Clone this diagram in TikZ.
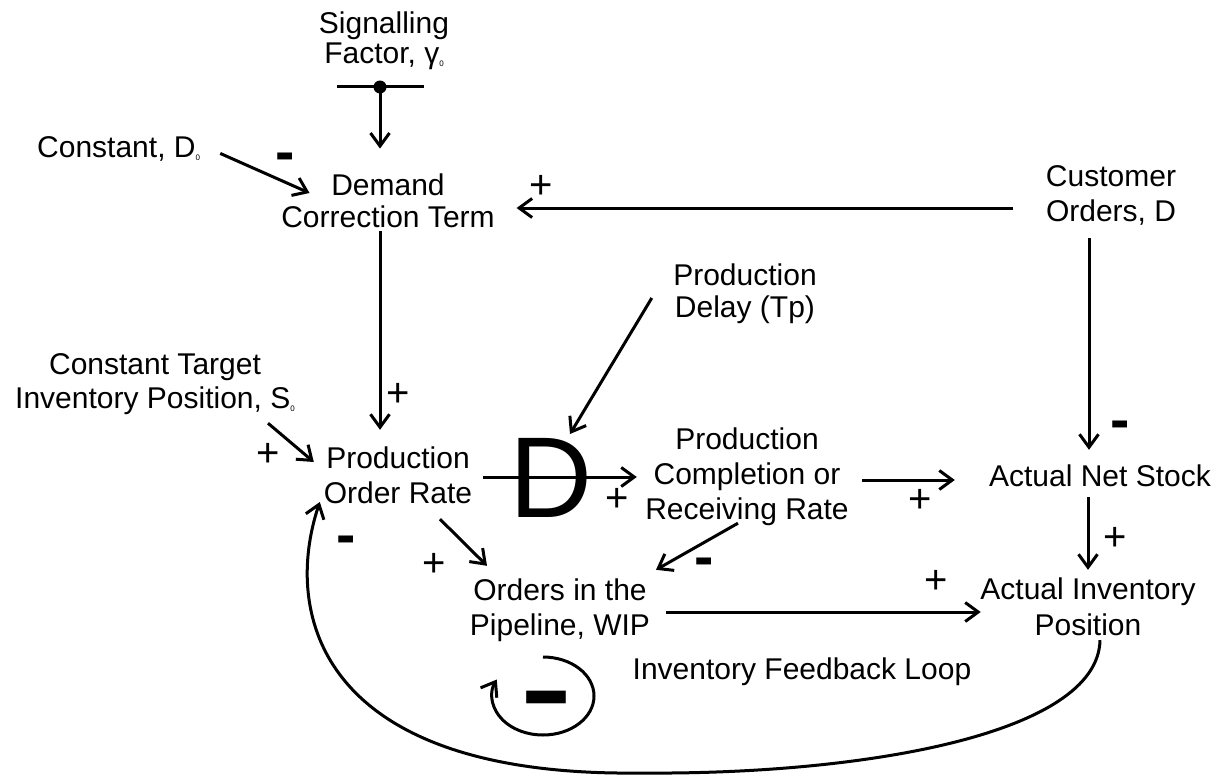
\documentclass[tikz,border=0pt]{standalone}
\usepackage{fontspec}
\setmainfont{Liberation Sans}
\usetikzlibrary{arrows.meta,calc}
\newcommand\subz[1]{\raisebox{-3pt}{\fontsize{8}{8}\selectfont #1}}
\begin{document}
\begin{tikzpicture}[x=1pt,y=-1pt,
  lbl/.style={font=\fontsize{30}{35}\selectfont, align=center, inner sep=0pt},
  arr/.style={line width=3pt, -{Straight Barb[length=13pt,width=19pt]}},
  pls/.style={font=\fontsize{40}{40}\selectfont, inner sep=0pt},
  mns/.style={font=\fontsize{58}{58}\selectfont\bfseries, inner sep=0pt, anchor=base}]
\fill[white] (0,0) rectangle (1227,776);
\useasboundingbox (0,0) rectangle (1227,776);
% nodes
\node[lbl, font=\fontsize{30}{29}\selectfont] (sig) at (384,42) {\strut Signalling\\\strut Factor, γ\subz{0}};
\node[lbl, font=\fontsize{30}{30}\selectfont] (dem) at (388,205) {\strut Demand\\\strut Correction Term};
\node[lbl] (cust) at (1111,197) {\strut Customer\\\strut Orders, D};
\node[lbl, font=\fontsize{30}{31}\selectfont] (delay) at (745,295) {\strut Production\\\strut Delay (Tp)};
\node[lbl, font=\fontsize{30}{34}\selectfont] (target) at (155,385) {\strut Constant Target\\\strut Inventory Position, S\subz{0}};
\node[lbl] (por) at (398,479) {\strut Production\\\strut Order Rate};
\node[lbl] (pcr) at (747,477) {\strut Production\\\strut Completion or\\\strut Receiving Rate};
\node[lbl] (ns) at (1100,479) {\strut Actual Net Stock};
\node[lbl, font=\fontsize{30}{36}\selectfont] (aip) at (1088,610) {\strut Actual Inventory\\\strut Position};
\node[lbl] (wip) at (560,611) {\strut Orders in the\\\strut Pipeline, WIP};
\node[lbl, anchor=base] (ifl) at (802,679) {Inventory Feedback Loop};
\node[lbl, anchor=base west] (d0) at (37,157) {Constant, D\subz{0}};
\node[font=\fontsize{115}{115}\selectfont, inner sep=0pt, anchor=base] (dsym) at (551,517) {D};
\coordinate (dot) at (380,87);
\coordinate (loopc) at (543,696);
% signalling bar
\draw[line width=3pt] ($(dot)+(-43,0)$) -- ($(dot)+(44,0)$);
\fill (dot) circle (6.5);
% connectors
\draw[arr] (dot) -- ($(dot |- dem.north)+(0,-25)$);
\draw[arr] ($(d0.east)+(20,5)$) -- ($(dem.west)+(28.4,-12)$);
\draw[arr] ($(cust.west)+(-33,11)$) -- ($(dem.east)+(21.7,3)$);
\draw[arr] ($(dem.south)+(-8,-5)$) -- ($(por.north)+(-18,-14)$);
\draw[arr] ($(delay.west)+(-21.3,3)$) -- ($(dsym.north)+(19,-3.7)$);
\draw[arr] ($(target.south)+(113,4)$) -- ($(por.west)+(-9.8,-17)$);
\draw[arr] ($(por.east)+(10.8,-2)$) -- ($(pcr.west)+(-8.3,0)$);
\draw[arr] ($(pcr.east)+(13.3,3)$) -- ($(ns.west)+(-34.1,1)$);
\draw[arr] ($(cust.south)+(-22,6)$) -- ($(ns.north)+(-11,-11.5)$);
\draw[arr] ($(ns.south)+(-12,0.5)$) -- ($(aip.north)+(0,-4)$);
\draw[arr] ($(wip.east)+(16,1)$) -- ($(aip.west)+(0.5,2)$);
\draw[arr] ($(por.south)+(42,5)$) -- ($(wip.north)+(-73,-10)$);
\draw[arr] ($(pcr.south)+(-9,-6.5)$) -- ($(wip.north)+(96,-6)$);
\draw[arr] ($(aip.south)+(12,-6)$) .. controls (1098,735) and (860,775) .. (640,773)
   .. controls (320,777) and (282,615) .. ($(por.west)+(-3.8,23)$);
% loop symbol
\draw[arr] ($(loopc)+(0,-39)$) arc[start angle=-90, end angle=205, x radius=51, y radius=39];
\node[font=\fontsize{162}{162}\selectfont, inner sep=0pt, anchor=base] (loopm) at (546,740) {-};
% polarity signs
\node[pls] (s1) at (398,395) {+};
\node[pls] (s2) at (268,455) {+};
\node[pls] (s3) at (617,500) {+};
\node[pls] (s4) at (920,501) {+};
\node[pls] (s5) at (1115,539) {+};
\node[pls] (s6) at (936,582) {+};
\node[pls] (s7) at (434,565) {+};
\node[pls] (s8) at (541,187) {+};
\node[mns] (m1) at (285,171) {-};
\node[mns] (m2) at (1120,439) {-};
\node[mns] (m3) at (704,576) {-};
\node[mns] (m4) at (346,554) {-};
\end{tikzpicture}
\end{document}
